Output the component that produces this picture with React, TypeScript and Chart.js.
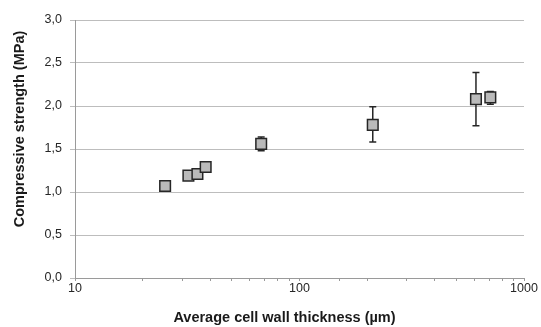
import React, { useEffect, useRef } from "react";
import { Chart, registerables } from "chart.js";

Chart.register(...registerables);

const thickness = [25.2, 32.0, 35.1, 38.2, 67.5, 212, 611, 708];
const strength = [1.07, 1.19, 1.21, 1.29, 1.56, 1.78, 2.08, 2.1];
const errLow = [1.05, 1.16, 1.19, 1.28, 1.48, 1.58, 1.77, 2.02];
const errHigh = [1.09, 1.22, 1.23, 1.3, 1.64, 1.99, 2.39, 2.17];
const xTickLabels = [10, 100, 1000];
const yTicks = [0, 0.5, 1, 1.5, 2, 2.5, 3];
const xTitle = "Average cell wall thickness (µm)";
const yTitle = "Compressive strength (MPa)";

const errorBarPlugin = {
  id: "errorBars",
  beforeDatasetsDraw(chart: any) {
    const ctx = chart.ctx;
    const xs = chart.scales.x;
    const ys = chart.scales.y;
    ctx.save();
    ctx.strokeStyle = "#262626";
    ctx.lineWidth = 1.5;
    for (let i = 0; i < thickness.length; i++) {
      const px = xs.getPixelForValue(thickness[i]);
      const top = ys.getPixelForValue(errHigh[i]);
      const bot = ys.getPixelForValue(errLow[i]);
      const cap = 3.5;
      ctx.beginPath();
      ctx.moveTo(px, top);
      ctx.lineTo(px, bot);
      ctx.moveTo(px - cap, top);
      ctx.lineTo(px + cap, top);
      ctx.moveTo(px - cap, bot);
      ctx.lineTo(px + cap, bot);
      ctx.stroke();
    }
    ctx.restore();
  },
};

const titlePlugin = {
  id: "axisTitles",
  afterDraw(chart: any) {
    const ctx = chart.ctx;
    const area = chart.chartArea;
    ctx.save();
    ctx.fillStyle = "#1a1a1a";
    ctx.font = "bold 14.5px 'Liberation Sans'";
    ctx.textAlign = "center";
    ctx.textBaseline = "middle";
    ctx.fillText(xTitle, (area.left + area.right) / 2 - 15, chart.height - 9);
    ctx.translate(20, (area.top + area.bottom) / 2 - 20);
    ctx.rotate(-Math.PI / 2);
    ctx.fillText(yTitle, 0, 0);
    ctx.restore();
  },
};

export default function App() {
  const ref = useRef<HTMLCanvasElement>(null);
  useEffect(() => {
    document.body.style.margin = "0";
    const chart = new Chart(ref.current!, {
      type: "scatter",
      data: {
        datasets: [
          {
            data: thickness.map((x, i) => ({ x, y: strength[i] })),
            pointStyle: "rect",
            pointRadius: 7.5,
            pointHoverRadius: 7.5,
            backgroundColor: "#bababa",
            borderColor: "#262626",
            borderWidth: 1.5,
          },
        ],
      },
      options: {
        animation: false,
        responsive: false,
        events: [],
        layout: { padding: { left: 0, right: 17, top: 20, bottom: 0 } },
        plugins: { legend: { display: false }, tooltip: { enabled: false } },
        scales: {
          x: {
            type: "logarithmic",
            min: 10,
            max: 1000,
            afterFit: (s: any) => {
              s.height = 49;
            },
            grid: {
              drawOnChartArea: false,
              drawTicks: true,
              tickLength: 3,
              color: "#9a9a9a",
            },
            border: { color: "#9a9a9a", width: 1 },
            ticks: {
              autoSkip: false,
              maxRotation: 0,
              padding: 0,
              color: "#262626",
              font: { family: "Liberation Sans", size: 12.5 },
              callback: (v: any) => (xTickLabels.includes(Number(v)) ? String(v) : ""),
            },
          },
          y: {
            min: 0,
            max: 3,
            afterFit: (s: any) => {
              s.width = 75;
            },
            afterBuildTicks: (s: any) => {
              s.ticks = yTicks.map((v) => ({ value: v }));
            },
            grid: {
              color: "#bdbdbd",
              lineWidth: 1,
              drawTicks: true,
              tickLength: 5,
            },
            border: { color: "#9a9a9a", width: 1 },
            ticks: {
              padding: 8,
              color: "#262626",
              font: { family: "Liberation Sans", size: 12.5 },
              callback: (v: any) => Number(v).toFixed(1).replace(".", ","),
            },
          },
        },
      },
      plugins: [errorBarPlugin, titlePlugin],
    } as any);
    return () => chart.destroy();
  }, []);
  return (
    <div style={{ position: "fixed", left: 0, top: 0, width: 541, height: 327, background: "#fff" }}>
      <canvas ref={ref} width={541} height={327} style={{ width: 541, height: 327 }} />
    </div>
  );
}
